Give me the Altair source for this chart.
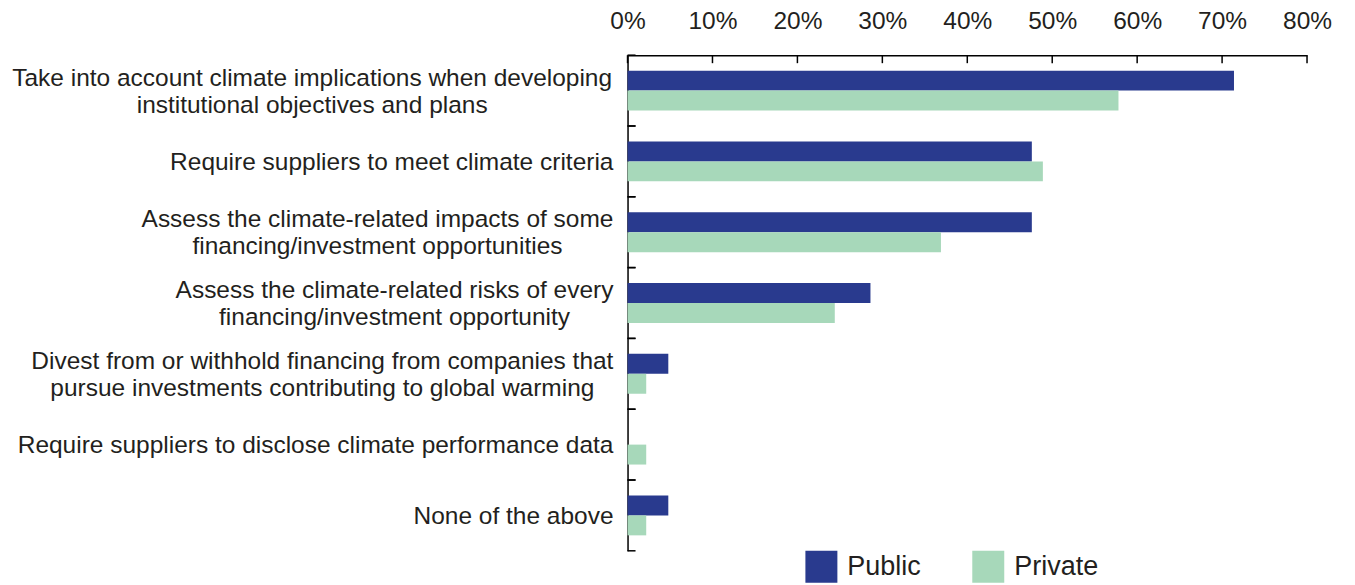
import altair as alt
import pandas as pd

categories = [
    "Take into account climate implications when developing|institutional objectives and plans",
    "Require suppliers to meet climate criteria",
    "Assess the climate-related impacts of some|financing/investment opportunities",
    "Assess the climate-related risks of every|financing/investment opportunity",
    "Divest from or withhold financing from companies that|pursue investments contributing to global warming",
    "Require suppliers to disclose climate performance data",
    "None of the above",
]
public_vals = [0.714, 0.476, 0.476, 0.286, 0.048, 0.0, 0.048]
private_vals = [0.578, 0.489, 0.369, 0.244, 0.022, 0.022, 0.022]
series = ["Public", "Private"]
colors = ["#293a8e", "#a7d8ba"]
x_ticks = [0, 0.1, 0.2, 0.3, 0.4, 0.5, 0.6, 0.7, 0.8]

FONT = "Liberation Sans"
TXT = "#231f20"
LABEL_FS = 24.5
LINE_H = 27
LABEL_PAD = 14

# Arial / Liberation Sans advance widths (1/1000 em), used to centre the
# lines of each multi-line label under its longest line
AW = dict(zip("abcdefghijklmnopqrstuvwxyz",
              [556, 556, 500, 556, 556, 278, 556, 556, 222, 222, 500, 222, 833,
               556, 556, 556, 556, 333, 500, 278, 556, 500, 722, 500, 500, 500]))
AW.update({"A": 667, "D": 722, "N": 722, "R": 722, "T": 611, " ": 278, "/": 278, "-": 333})


def text_w(s):
    return sum(AW.get(ch, 556) for ch in s) / 1000.0 * LABEL_FS


rows = []
for c, pu, pr in zip(categories, public_vals, private_vals):
    rows.append({"cat": c, "series": "Public", "value": pu})
    rows.append({"cat": c, "series": "Private", "value": pr})
df = pd.DataFrame(rows)

lab_rows = []
for c in categories:
    lines = c.split("|")
    lab_rows.append({
        "cat": c,
        "lines": lines,
        "halfw": max(text_w(l) for l in lines) / 2.0,
        "nl": len(lines),
    })
lab_df = pd.DataFrame(lab_rows)
cat_df = pd.DataFrame({"cat": categories})
tick_df = pd.DataFrame({"t": x_ticks})

y_enc = alt.Y(
    "cat:N", sort=categories,
    scale=alt.Scale(paddingInner=0, paddingOuter=0),
    axis=alt.Axis(title=None, ticks=False, labels=False, domain=True,
                  domainColor="#000", domainWidth=1.5),
)

x_scale = alt.Scale(domain=[0, 0.8], nice=False)

bars = alt.Chart(df).mark_bar().encode(
    x=alt.X("value:Q", scale=x_scale,
            axis=alt.Axis(orient="top", title=None, values=x_ticks, format=".0%",
                          ticks=False, tickSize=0, grid=False, labelFlush=False,
                          domainColor="#000", domainWidth=1.5,
                          labelFontSize=24.5, labelFont=FONT, labelColor=TXT, labelPadding=22)),
    y=y_enc,
    yOffset=alt.YOffset("series:N", sort=series,
                        scale=alt.Scale(paddingInner=0, paddingOuter=0.775)),
    color=alt.Color("series:N", sort=series,
                    scale=alt.Scale(domain=series, range=colors),
                    legend=alt.Legend(title=None, orient="none", direction="horizontal",
                                      legendX=178, legendY=496, padding=0,
                                      symbolType="square", symbolSize=1024,
                                      symbolStrokeWidth=0, symbolOpacity=1,
                                      labelFontSize=27, labelFont=FONT, labelColor=TXT,
                                      labelOffset=10, columnPadding=51)),
)

labels = alt.Chart(lab_df).mark_text(
    align="center", baseline="middle", font=FONT, fontSize=LABEL_FS, color=TXT,
    lineHeight=LINE_H,
    dx={"expr": "-datum.halfw"},
    dy={"expr": "1.5 - (datum.nl - 1) * %d / 2" % LINE_H},
).encode(
    y=alt.Y("cat:N", sort=categories),
    x=alt.value(-LABEL_PAD),
    text=alt.Text("lines"),
)

xticks = alt.Chart(tick_df).mark_rule(color="#000", strokeWidth=1.5).encode(
    x=alt.X("t:Q", scale=x_scale),
    y=alt.value(0), y2=alt.value(8),
)

yticks_top = alt.Chart(cat_df).mark_rule(color="#000", strokeWidth=1.5).encode(
    y=alt.Y("cat:N", sort=categories, bandPosition=0),
    x=alt.value(0), x2=alt.value(8),
)
yticks_bot = alt.Chart(cat_df).mark_rule(color="#000", strokeWidth=1.5).encode(
    y=alt.Y("cat:N", sort=categories, bandPosition=1),
    x=alt.value(0), x2=alt.value(8),
)

chart = alt.layer(bars, labels, xticks, yticks_top, yticks_bot).properties(
    width=680, height=496,
    background="white",
    autosize=alt.AutoSizeParams(type="none"),
    padding={"left": 620, "top": 47, "right": 40, "bottom": 34},
).configure_view(stroke=None)

chart.save("out.html", embed_options={"renderer": "svg", "actions": False})
